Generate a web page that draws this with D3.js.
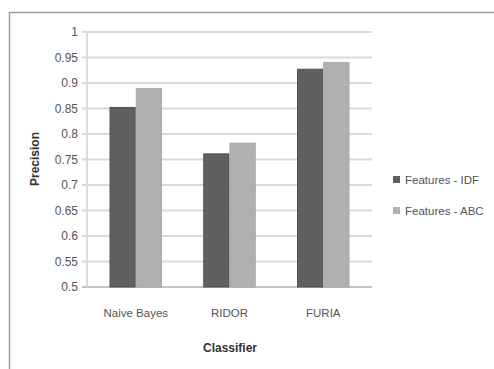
<!DOCTYPE html>
<html>
<head>
<meta charset="utf-8">
<script src="https://cdn.jsdelivr.net/npm/d3@7/dist/d3.min.js"></script>
<style>
  html, body { margin: 0; padding: 0; background: #fff; }
  svg { display: block; }
  text { font-family: "Liberation Sans Narrow", "Liberation Sans", Arial, sans-serif; fill: #444; }
</style>
</head>
<body>
<svg id="chart" width="494" height="369"></svg>
<script>
// Precision per classifier for the two feature sets
const classifiers = ["Naive Bayes", "RIDOR", "FURIA"];
const seriesNames = ["Features - IDF", "Features - ABC"];
const idfValues = [0.852, 0.761, 0.927];
const abcValues = [0.889, 0.782, 0.940];
const yTicks = [0.5, 0.55, 0.6, 0.65, 0.7, 0.75, 0.8, 0.85, 0.9, 0.95, 1];
const yTickLabels = ["0.5", "0.55", "0.6", "0.65", "0.7", "0.75", "0.8", "0.85", "0.9", "0.95", "1"];
const colors = ["#606060", "#b0b0b0"];
const strokes = ["#505050", "#a8a8a8"];

const svg = d3.select("#chart");
const plot = { left: 87, right: 372, top: 32, bottom: 287 };

// outer frame (top and left edges visible)
svg.append("path")
  .attr("d", "M9.5,369 L9.5,12.5 L494,12.5")
  .attr("fill", "none").attr("stroke", "#9a9a9a").attr("stroke-width", 1.5);

const y = d3.scaleLinear().domain([0.5, 1]).range([plot.bottom, plot.top]);
const x0 = d3.scaleBand().domain(classifiers).range([plot.left, plot.right])
  .paddingInner(0.44).paddingOuter(0.24);
const x1 = d3.scaleBand().domain(seriesNames).range([0, x0.bandwidth()]);

// gridlines
svg.append("g").selectAll("line").data(yTicks).join("line")
  .attr("x1", plot.left - 5).attr("x2", plot.right)
  .attr("y1", d => y(d)).attr("y2", d => y(d))
  .attr("stroke", d => d === 0.5 ? "#c4c4c4" : "#d9d9d9")
  .attr("stroke-width", 2);

// vertical axis line
svg.append("line")
  .attr("x1", plot.left).attr("x2", plot.left)
  .attr("y1", plot.top).attr("y2", plot.bottom)
  .attr("stroke", "#dcdcdc").attr("stroke-width", 2);

// y tick labels
const yAxis = d3.axisLeft(y).tickValues(yTicks)
  .tickFormat((d, i) => yTickLabels[i]).tickSize(0).tickPadding(9);
const yg = svg.append("g").attr("transform", `translate(${plot.left},0)`).call(yAxis);
yg.select(".domain").remove();
yg.selectAll("text").style("font-size", "12px").style("fill", "#555")
  .style("font-family", '"Liberation Sans Narrow", Arial, sans-serif');

// bars
const rows = classifiers.map((c, i) => ({ c, vals: [idfValues[i], abcValues[i]] }));
const groups = svg.append("g").selectAll("g").data(rows).join("g")
  .attr("transform", d => `translate(${x0(d.c)},0)`);
groups.selectAll("rect").data(d => d.vals.map((v, k) => ({ v, k })))
  .join("rect")
  .attr("x", d => x1(seriesNames[d.k]) + 0.5)
  .attr("width", x1.bandwidth() - 1)
  .attr("y", d => y(d.v))
  .attr("height", d => y(0.5) - y(d.v))
  .attr("fill", d => colors[d.k])
  .attr("stroke", d => strokes[d.k]).attr("stroke-width", 1);

// category labels
const xAxis = d3.axisBottom(x0).tickSize(0).tickPadding(22);
const xg = svg.append("g").attr("transform", `translate(0,${plot.bottom})`).call(xAxis);
xg.select(".domain").remove();
xg.selectAll("text").style("font-size", "11.5px").style("fill", "#555")
  .style("font-family", '"Liberation Sans Narrow", Arial, sans-serif');

// axis titles
svg.append("text")
  .attr("x", 230).attr("y", 352)
  .attr("text-anchor", "middle")
  .style("font-size", "12px").style("font-weight", "bold").style("fill", "#333")
  .text("Classifier");
svg.append("text")
  .attr("transform", "translate(39,159) rotate(-90)")
  .attr("text-anchor", "middle")
  .style("font-size", "12px").style("font-weight", "bold").style("fill", "#333")
  .text("Precision");

// legend
const legend = svg.append("g").selectAll("g").data(seriesNames).join("g")
  .attr("transform", (d, i) => `translate(393,${180 + i * 31})`);
legend.append("rect")
  .attr("x", 0).attr("y", -4).attr("width", 7).attr("height", 7)
  .attr("fill", (d, i) => colors[i]);
legend.append("text")
  .attr("x", 12).attr("y", 0).attr("dy", "0.35em")
  .style("font-size", "11.5px").style("fill", "#555")
  .text(d => d);
</script>
</body>
</html>
